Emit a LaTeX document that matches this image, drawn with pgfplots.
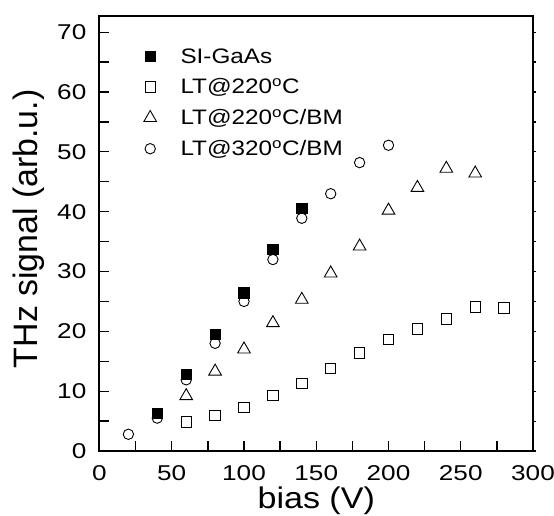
\documentclass[border=0pt]{standalone}
\usepackage{pgfplots}
\pgfplotsset{compat=1.18}
\usepackage{fontspec}
\setmainfont{Liberation Sans}
\newcommand{\wide}[2]{\scalebox{#1}[1]{#2}}
\begin{document}
\begin{tikzpicture}
\pgfplotsset{
  common/.style={
    scale only axis, width=433.5bp, height=435bp,
    xmin=0, xmax=300, ymin=0, ymax=72.7,
  },
}
% small ticks on the right side only
\begin{axis}[
  common,
  axis x line=none, axis y line*=right,
  ytick={0,5,...,70}, yticklabels={},
  tick align=outside, major tick length=2.5bp,
  tick style={line width=1.2bp, black},
  axis line style={line width=2bp},
]
\end{axis}
\begin{axis}[
  common,
  xtick={0,50,...,300}, ytick={0,10,...,70},
  minor x tick num=1, minor y tick num=1,
  xtick pos=bottom, ytick pos=left,
  tick align=inside, major tick length=10bp, minor tick length=10bp,
  axis line style={line width=2bp},
  tick style={line width=1.3bp, black},
  /pgf/number format/assume math mode=true,
  xticklabel={\wide{1.22}{\pgfmathprintnumber{\tick}}},
  yticklabel={\wide{1.22}{\pgfmathprintnumber{\tick}}},
  tick label style={font=\fontsize{21.5}{21.5}\selectfont, inner sep=0pt},
  yticklabel style={anchor=east, xshift=-13bp},
  xticklabel style={anchor=north, yshift=-14bp},
  xlabel={\wide{1.14}{bias (V)}}, ylabel={THz signal (arb.u.)},
  xlabel style={at={(axis description cs:0.5,-0.131)}, anchor=base,
    font=\fontsize{30}{30}\selectfont},
  ylabel style={at={(axis description cs:-0.144,0.511)}, anchor=base,
    font=\fontsize{34}{34}\selectfont},
  legend style={draw=none, fill=none, at={(0.095,0.935)}, anchor=north west,
    font=\fontsize{21}{21}\selectfont, row sep=10bp,
    /tikz/every odd column/.append style={column sep=22bp}},
  legend cell align=left,
  only marks,
  clip=false,
]
\addplot[mark=square*, mark size=5.2bp, fill=black, mark options={line width=0.8bp}]
  coordinates {(40,6.3)(60,12.8)(80,19.5)(100,26.4)(120,33.7)(140,40.5)};
\addlegendentry{\wide{1.16}{SI-GaAs}}
\addplot[mark=square, mark size=5.2bp, mark options={line width=0.9bp}]
  coordinates {(60,4.85)(80,5.9)(100,7.25)(120,9.25)(140,11.3)(160,13.8)(180,16.4)(200,18.6)(220,20.4)(240,22.1)(260,24.1)(280,23.9)};
\addlegendentry{\wide{1.16}{LT@220\textsuperscript{o}C}}
\addplot[mark=triangle, mark size=7.3bp, mark options={line width=0.9bp}]
  coordinates {(60,9.2)(80,13.3)(100,17.0)(120,21.4)(140,25.3)(160,29.7)(180,34.2)(200,40.2)(220,44.0)(240,47.2)(260,46.4)};
\addlegendentry{\wide{1.16}{LT@220\textsuperscript{o}C/BM}}
\addplot[mark=o, mark size=5.2bp, mark options={line width=0.9bp}]
  coordinates {(20,2.8)(40,5.5)(60,11.9)(80,18.0)(100,25.0)(120,32.0)(140,38.9)(160,43.0)(180,48.2)(200,51.1)};
\addlegendentry{\wide{1.16}{LT@320\textsuperscript{o}C/BM}}
% page frame of the reference
\coordinate (pageSW) at (rel axis cs:-0.2295,-0.1471);
\coordinate (pageNE) at (rel axis cs:1.0484,1.0368);
\end{axis}
\pgfresetboundingbox
\path[use as bounding box] (pageSW) rectangle (pageNE);
\end{tikzpicture}
\end{document}
